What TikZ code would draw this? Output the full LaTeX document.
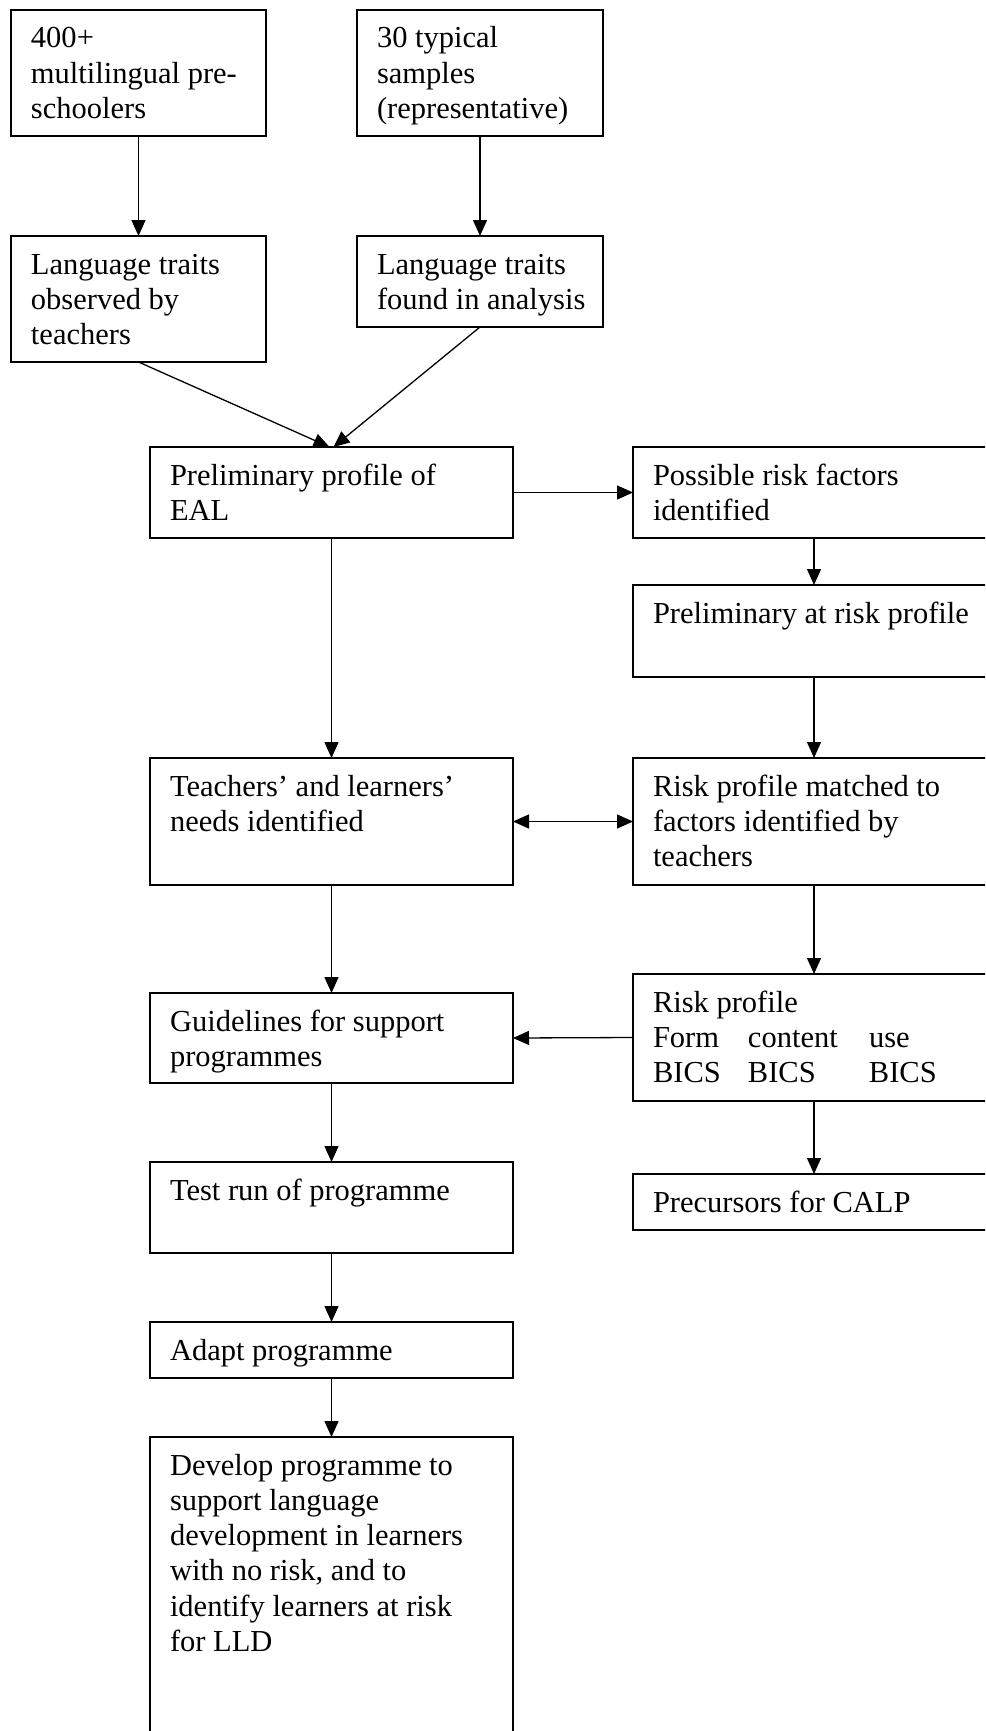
\documentclass[tikz,border=0pt]{standalone}
\usepackage{fontspec}
\setmainfont{Liberation Serif}
\usetikzlibrary{arrows.meta}
\newcommand\bxt[3]{\parbox[t][#2][t]{#1}{\raggedright\leftskip=20pt\rule{0pt}{38pt}#3}}
\newcommand\tcol[2]{\makebox[#1][l]{#2}}
\tikzset{
  bx/.style={draw, line width=1.6pt, inner sep=0pt, outer sep=0pt, anchor=north west,
    font=\fontsize{30.5pt}{35.3pt}\selectfont},
  arr/.style={-{Triangle[length=16pt,width=14pt]}, line width=1.3pt},
  darr/.style={{Triangle[length=16pt,width=14pt]}-{Triangle[length=16pt,width=14pt]}, line width=1.3pt}
}
\begin{document}
\begin{tikzpicture}[x=1pt,y=-1pt]
\clip (0,0) rectangle (985,1731);
\fill[white] (0,0) rectangle (985,1731);
\node[bx] (A) at (11,10) {\bxt{255pt}{126pt}{400+\\multilingual pre-\\schoolers}};
\node[bx] (B) at (357,10) {\bxt{246pt}{126pt}{30 typical\\samples\\(representative)}};
\node[bx] (C) at (11,236) {\bxt{255pt}{126pt}{Language traits\\observed by\\teachers}};
\node[bx] (D) at (357,236) {\bxt{246pt}{91pt}{Language traits\\found in analysis}};
\node[bx] (E) at (150,447) {\bxt{363pt}{91pt}{Preliminary profile of\\EAL}};
\node[bx] (F) at (633,447) {\bxt{362pt}{91pt}{Possible risk factors\\identified}};
\node[bx] (G) at (633,585) {\bxt{362pt}{92pt}{Preliminary at risk profile}};
\node[bx] (H) at (150,758) {\bxt{363pt}{127pt}{Teachers’ and learners’\\needs identified}};
\node[bx] (I) at (633,758) {\bxt{362pt}{127pt}{Risk profile matched to\\factors identified by\\teachers}};
\node[bx] (J) at (150,993) {\bxt{363pt}{90pt}{Guidelines for support\\programmes}};
\node[bx] (K) at (633,974) {\bxt{362pt}{127pt}{Risk profile\\\tcol{95pt}{Form}\tcol{121pt}{content}use\\\tcol{95pt}{BICS}\tcol{121pt}{BICS}BICS}};
\node[bx] (L) at (150,1162) {\bxt{363pt}{91pt}{Test run of programme}};
\node[bx] (M) at (633,1174) {\bxt{362pt}{56pt}{Precursors for CALP}};
\node[bx] (N) at (150,1322) {\bxt{363pt}{56pt}{Adapt programme}};
\node[bx] (O) at (150,1437) {\bxt{363pt}{310pt}{Develop programme to\\support language\\development in learners\\with no risk, and to\\identify learners at risk\\for LLD}};
\draw[arr] (A.south) -- (C.north);
\draw[arr] (B.south) -- (D.north);
\draw[arr] (C.south) -- ([xshift=-2pt]E.north);
\draw[arr] (D.south) -- ([xshift=2pt]E.north);
\draw[arr] (E.east) -- (F.west);
\draw[arr] (F.south) -- (G.north);
\draw[arr] (G.south) -- (I.north);
\draw[arr] (E.south) -- (H.north);
\draw[darr] (H.east) -- (I.west);
\draw[arr] (H.south) -- (J.north);
\draw[arr] (I.south) -- (K.north);
\draw[arr] (K.west) -- (J.east);
\draw[arr] (K.south) -- (M.north);
\draw[arr] (J.south) -- (L.north);
\draw[arr] (L.south) -- (N.north);
\draw[arr] (N.south) -- (O.north);
\end{tikzpicture}
\end{document}
